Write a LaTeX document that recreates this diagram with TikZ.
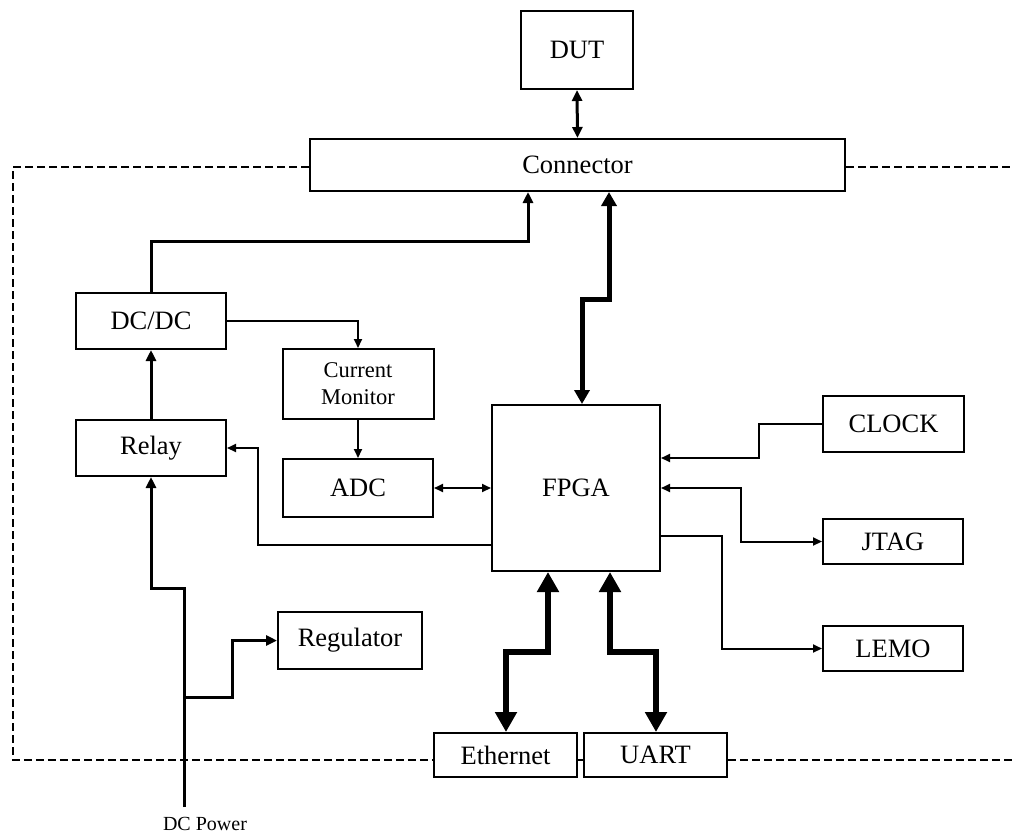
\documentclass[tikz,border=0pt]{standalone}
\usepackage{fontspec}
\setmainfont{Liberation Serif}
\usetikzlibrary{arrows.meta}
\begin{document}
\begin{tikzpicture}[x=1pt,y=-1pt,
  box/.style={draw,line width=2pt,inner sep=0pt,font=\fontsize{26.5}{30}\selectfont},
  lwa/.style={line width=2pt,>={Triangle[length=9pt,width=8pt]}},
  lwb/.style={line width=3pt,>={Triangle[length=11pt,width=10pt]}},
  lwc/.style={line width=5pt,>={Triangle[length=14pt,width=15pt]}},
  lwd/.style={line width=6.5pt,>={Triangle[length=20pt,width=21pt]}},
  dashline/.style={line width=2pt,dash pattern=on 8pt off 4pt}]
\useasboundingbox (0,0) rectangle (1012,836);
% boxes
\node[box,minimum width=112pt,minimum height=78pt] (dut) at (577,50) {DUT};
\node[box,minimum width=535pt,minimum height=52pt] (conn) at (577.5,165) {Connector};
\node[box,minimum width=150pt,minimum height=56pt] (dcdc) at (151,321) {DC/DC};
\node[box,minimum width=150pt,minimum height=56pt] (relay) at (151,448) {Relay};
\node[box,minimum width=151pt,minimum height=70pt,align=center,font=\fontsize{22.5}{27}\selectfont] (curmon) at (358,384) {Current\\Monitor};
\node[box,minimum width=150pt,minimum height=58pt] (adc) at (358,488) {ADC};
\node[box,minimum width=168pt,minimum height=166pt] (fpga) at (576,488) {FPGA};
\node[box,minimum width=141pt,minimum height=56pt] (clock) at (893.5,424) {CLOCK};
\node[box,minimum width=140pt,minimum height=45pt] (jtag) at (893,541.5) {JTAG};
\node[box,minimum width=140pt,minimum height=45pt] (lemo) at (893,648.5) {LEMO};
\node[box,minimum width=144pt,minimum height=57pt] (reg) at (350,640.5) {Regulator};
\node[box,minimum width=143pt,minimum height=44pt] (eth) at (505.5,755) {Ethernet};
\node[box,minimum width=143pt,minimum height=44pt] (uart) at (655.5,755) {UART};
\node[inner sep=0pt,font=\fontsize{20}{24}\selectfont] (dcp) at (205,824) {DC Power};
% helper coordinates
\coordinate (b1) at (13,167);
\coordinate (b2) at (13,760);
\coordinate (b3) at (1012,760);
\coordinate (b4) at (1012,167);
\coordinate (c1) at (528,241);
\coordinate (c0) at (151,241);
\coordinate (f1) at (582,299);
\coordinate (f2) at (609,299);
\coordinate (r1) at (258,545);
\coordinate (p0) at (184,807);
\coordinate (p1) at (184,588);
\coordinate (p2) at (184,697);
\coordinate (p3) at (232,697);
\coordinate (k1) at (759,458);
\coordinate (j1) at (741,488);
\coordinate (l1) at (722,536);
\coordinate (e1) at (506,652);
\coordinate (e2) at (548,652);
\coordinate (u1) at (610,652);
\coordinate (u2) at (656,652);
% dashed boundary
\draw[dashline] (b1 -| conn.west) -- (b1) -- (b2) -- (b2 -| eth.west);
\draw[dashline] (b2 -| eth.east) -- (b2 -| uart.west);
\draw[dashline] (b2 -| uart.east) -- (b3);
\draw[dashline] (b4 -| conn.east) -- (b4);
% connectors
\draw[lwb,<->] (dut.south) -- (conn.north);
\draw[lwb,->] (dcdc.north) -- (c0) -- (c1) -- (c1 |- conn.south);
\draw[lwc,<->] (f1 |- fpga.north) -- (f1) -- (f2) -- (f2 |- conn.south);
\draw[lwa,->] (dcdc.east) -| (curmon.north);
\draw[lwa,->] (curmon.south) -- (adc.north);
\draw[lwa,<->] (adc.east) -- (fpga.west);
\draw[lwb,->] (relay.north) -- (dcdc.south);
\draw[lwa,->] (r1 -| fpga.west) -- (r1) |- (relay.east);
\draw[lwb,->] (p0) -- (p1) -| (relay.south);
\draw[lwb,->] (p2) -- (p3) |- (reg.west);
\draw[lwa,->] (clock.west) -| (k1) -- (k1 -| fpga.east);
\draw[lwa,<->] (j1 -| fpga.east) -- (j1) |- (jtag.west);
\draw[lwa,->] (l1 -| fpga.east) -- (l1) |- (lemo.west);
\draw[lwd,<->] (e1 |- eth.north) -- (e1) -- (e2) -- (e2 |- fpga.south);
\draw[lwd,<->] (u1 |- fpga.south) -- (u1) -- (u2) -- (u2 |- uart.north);
\end{tikzpicture}
\end{document}
